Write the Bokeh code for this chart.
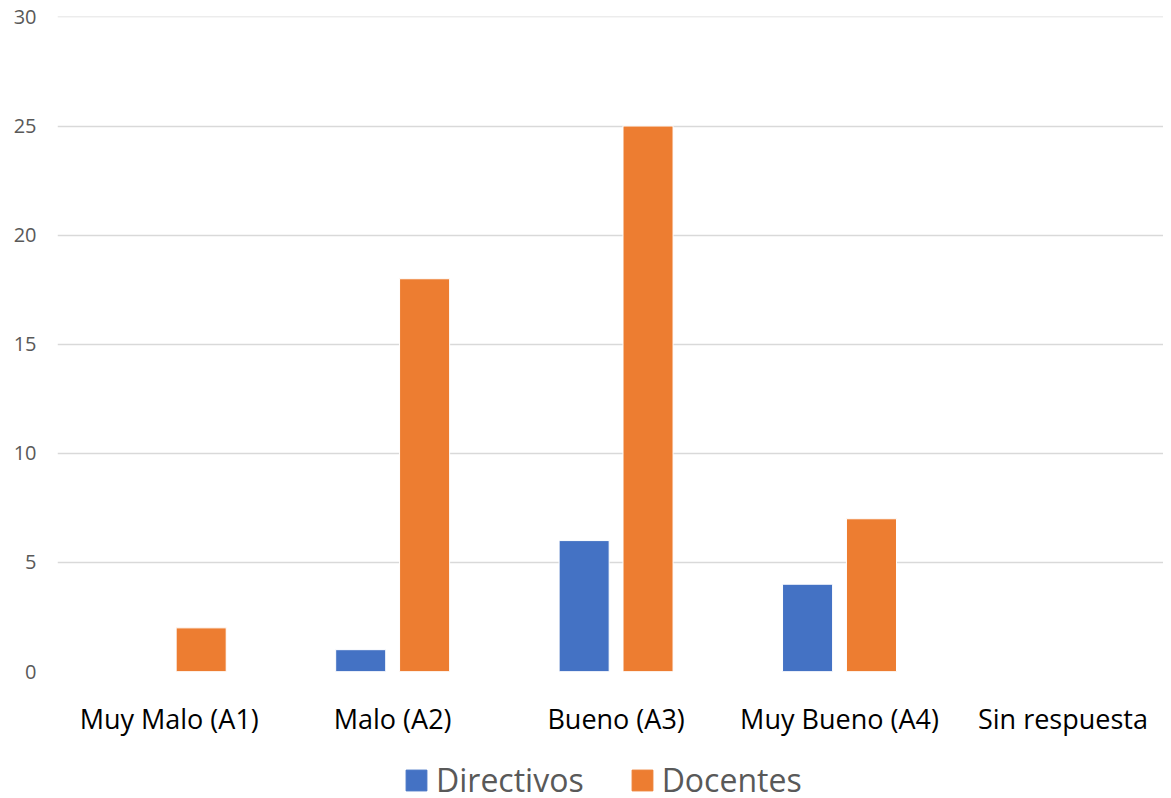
from bokeh.plotting import figure
from bokeh.layouts import column
from bokeh.models import Range1d, FixedTicker, Legend, LegendItem, ColumnDataSource
from bokeh.embed import file_html
from bokeh.resources import INLINE

categories = ["Muy Malo (A1)", "Malo (A2)", "Bueno (A3)", "Muy Bueno (A4)", "Sin respuesta"]
directivos = [0, 1, 6, 4, 0]
docentes = [2, 18, 25, 7, 0]
series_names = ["Directivos", "Docentes"]
colors = ["#4472C4", "#ED7D31"]
y_ticks = [0, 5, 10, 15, 20, 25, 30]

FONT = "Open Sans"
idx = list(range(len(categories)))

p = figure(width=1163, height=739, output_backend="svg", toolbar_location=None,
           x_range=Range1d(-0.5, 4.45), y_range=Range1d(0, 30.02),
           min_border_left=57, min_border_right=0, min_border_top=16, min_border_bottom=66)
p.outline_line_color = None
p.background_fill_color = "white"
p.border_fill_color = "white"

off = 0.143
bw = 0.224
src_d = ColumnDataSource(dict(x=[i - off for i in idx], top=directivos))
src_o = ColumnDataSource(dict(x=[i + off for i in idx], top=docentes))
r1 = p.vbar(x="x", top="top", width=bw, bottom=0, source=src_d, fill_color=colors[0], line_color="white", line_width=1)
r2 = p.vbar(x="x", top="top", width=bw, bottom=0, source=src_o, fill_color=colors[1], line_color="white", line_width=1)

# x axis
p.xaxis.ticker = FixedTicker(ticks=idx)
p.xaxis.major_label_overrides = {i: c for i, c in zip(idx, categories)}
p.xaxis.major_label_text_font = FONT
p.xaxis.major_label_text_font_size = "27px"
p.xaxis.major_label_text_color = "#000000"
p.xaxis.major_label_standoff = 22
p.xaxis.axis_line_color = None
p.xaxis.major_tick_line_color = None
p.xaxis.minor_tick_line_color = None
p.xgrid.grid_line_color = None

# y axis
p.yaxis.ticker = FixedTicker(ticks=y_ticks)
p.yaxis.major_label_text_font = FONT
p.yaxis.major_label_text_font_size = "20px"
p.yaxis.major_label_text_color = "#595959"
p.yaxis.major_label_standoff = 15
p.yaxis.axis_line_color = None
p.yaxis.major_tick_line_color = None
p.yaxis.minor_tick_line_color = None
p.ygrid.grid_line_color = "#d9d9d9"
p.ygrid.grid_line_width = 1.5

# legend in a separate strip below the chart
lf = figure(width=1163, height=59, output_backend="svg", toolbar_location=None,
            x_range=Range1d(0, 1), y_range=Range1d(0, 1),
            min_border_left=0, min_border_right=0, min_border_top=0, min_border_bottom=0)
lf.axis.visible = False
lf.grid.visible = False
lf.outline_line_color = None
l1 = lf.vbar(x=[5], top=[5], bottom=4, width=0.1, fill_color=colors[0], line_color=colors[0])
l2 = lf.vbar(x=[5], top=[5], bottom=4, width=0.1, fill_color=colors[1], line_color=colors[1])

legend = Legend(items=[LegendItem(label=series_names[0], renderers=[l1]),
                       LegendItem(label=series_names[1], renderers=[l2])],
                orientation="horizontal", location=(346, -3))
legend.label_text_font = FONT
legend.label_text_font_size = "32px"
legend.label_text_color = "#595959"
legend.glyph_width = 26
legend.glyph_height = 26
legend.label_standoff = 7
legend.spacing = 45
legend.padding = 0
legend.margin = 0
legend.border_line_color = None
legend.background_fill_alpha = 0
lf.add_layout(legend, "center")

open("out.html", "w").write(file_html(column(p, lf, spacing=0), INLINE))
